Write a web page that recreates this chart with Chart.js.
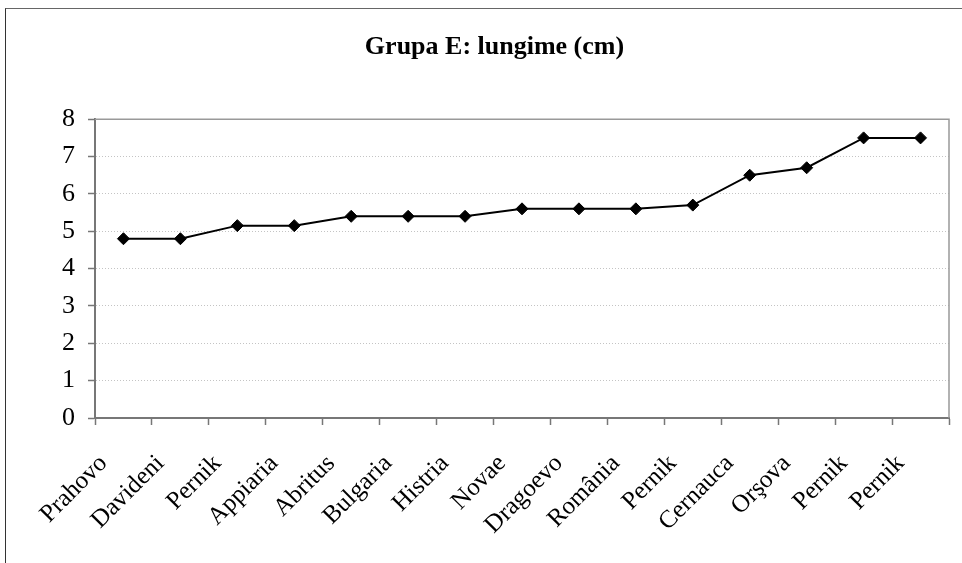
<!DOCTYPE html>
<html>
<head>
<meta charset="utf-8">
<script src="https://cdn.jsdelivr.net/npm/chart.js@4/dist/chart.umd.min.js"></script>
<style>
body { margin: 0; background: #fff; }
#wrap { position: relative; width: 962px; height: 563px; overflow: hidden; }
#frame { position: absolute; left: 5px; top: 8px; width: 970px; height: 570px; border-left: 1px solid #333; border-top: 1px solid #666; }
canvas { position: absolute; left: 0; top: 0; }
</style>
</head>
<body>
<div id="wrap">
  <div id="frame"></div>
  <canvas id="lengthChart" width="962" height="563"></canvas>
</div>
<script>
// Data
const sites = ["Prahovo", "Davideni", "Pernik", "Appiaria", "Abritus", "Bulgaria", "Histria", "Novae",
               "Dragoevo", "România", "Pernik", "Cernauca", "Orşova", "Pernik", "Pernik"];
const lengths = [4.8, 4.8, 5.15, 5.15, 5.4, 5.4, 5.4, 5.6, 5.6, 5.6, 5.7, 6.5, 6.7, 7.5, 7.5];
const yTicks = [0, 1, 2, 3, 4, 5, 6, 7, 8];

const serif = "'Liberation Serif', 'Times New Roman', serif";

// top + right edges of the plot area
const plotBorder = {
    id: 'plotBorder',
    beforeDatasetsDraw(chart) {
        const { ctx, chartArea: a } = chart;
        ctx.save();
        ctx.strokeStyle = '#999';
        ctx.lineWidth = 1.5;
        ctx.beginPath();
        ctx.moveTo(a.left, a.top);
        ctx.lineTo(a.right, a.top);
        ctx.lineTo(a.right, a.bottom);
        ctx.stroke();
        ctx.restore();
    }
};

const ctx = document.getElementById('lengthChart').getContext('2d');

new Chart(ctx, {
    type: 'line',
    data: {
        labels: sites,
        datasets: [{
            data: lengths,
            borderColor: '#000',
            borderWidth: 2,
            tension: 0,
            pointStyle: 'rectRot',
            pointRadius: 6,
            pointBackgroundColor: '#000',
            pointBorderColor: '#000',
            pointBorderWidth: 1
        }]
    },
    options: {
        responsive: false,
        devicePixelRatio: 1,
        animation: false,
        layout: { padding: { left: 40, right: 13, top: 0, bottom: 0 } },
        plugins: {
            legend: { display: false },
            tooltip: { enabled: false },
            title: {
                display: true,
                text: 'Grupa E: lungime (cm)',
                color: '#000',
                font: { family: serif, size: 26, weight: 'bold' },
                padding: { top: 32, bottom: 56 }
            }
        },
        scales: {
            x: {
                offset: true,
                grid: { drawOnChartArea: false, offset: true, tickLength: 7, tickColor: '#777', tickWidth: 1.5 },
                border: { color: '#777', width: 2 },
                ticks: {
                    color: '#000',
                    font: { family: serif, size: 25 },
                    autoSkip: false,
                    maxRotation: 45,
                    minRotation: 45,
                    padding: 24,
                    labelOffset: -20
                },
                afterFit: s => {
                    s.height = 145;
                    s.paddingLeft = 0;
                    s.paddingRight = 0;
                }
            },
            y: {
                min: 0,
                max: 8,
                afterBuildTicks: axis => { axis.ticks = yTicks.map(v => ({ value: v })); },
                grid: { color: '#c4c4c4', lineWidth: 1, tickLength: 7, tickColor: '#777', tickWidth: 1.5, tickBorderDash: [] },
                border: { color: '#777', width: 2, dash: [1, 2] },
                ticks: {
                    color: '#000',
                    font: { family: serif, size: 26 },
                    padding: 13
                },
                afterFit: s => { s.width = 55; }
            }
        }
    },
    plugins: [plotBorder]
});
</script>
</body>
</html>
